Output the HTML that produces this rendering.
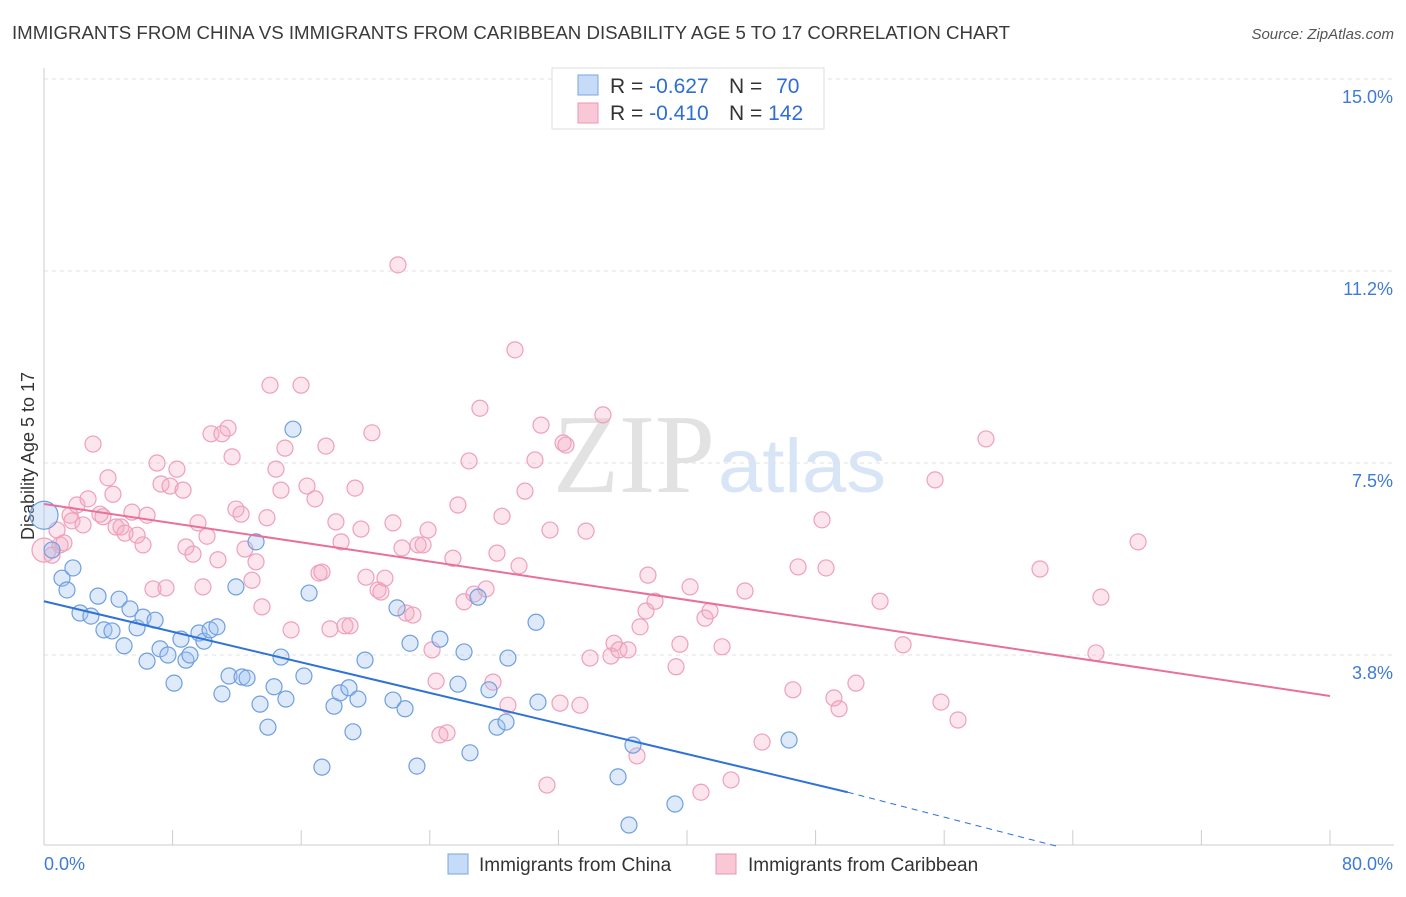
<!DOCTYPE html>
<html><head><meta charset="utf-8"><style>
body{margin:0;background:#fff;font-family:"Liberation Sans",sans-serif;}
svg text{font-family:"Liberation Sans",sans-serif;}
</style></head><body>
<svg id="c" width="1406" height="892" xmlns="http://www.w3.org/2000/svg">
<text x="12" y="39" font-size="18" fill="#3a3a3a" textLength="998" lengthAdjust="spacingAndGlyphs">IMMIGRANTS FROM CHINA VS IMMIGRANTS FROM CARIBBEAN DISABILITY AGE 5 TO 17 CORRELATION CHART</text>
<text x="1394" y="39" font-size="15" fill="#555" text-anchor="end" font-style="italic">Source: ZipAtlas.com</text>
<text x="553" y="492" font-size="112" fill="#e2e2e2" style="font-family:'Liberation Serif',serif" textLength="162" lengthAdjust="spacingAndGlyphs">ZIP</text>
<text x="718" y="492" font-size="76" fill="#d8e5f6" textLength="168" lengthAdjust="spacingAndGlyphs">atlas</text>
<text transform="translate(34,456) rotate(-90)" font-size="18" fill="#333" text-anchor="middle">Disability Age 5 to 17</text>
<g id="grid"></g><g id="axes"></g><g id="pts"></g><g id="lines"></g>
<g>
<rect x="552" y="68" width="272" height="61" fill="#fff" stroke="#ddd"/>
<rect x="578" y="75" width="20" height="20" fill="#c6dbf7" stroke="#7aa6e0"/>
<rect x="578" y="103" width="20" height="20" fill="#f9c8d7" stroke="#ec95b0"/>
<text x="610" y="93" font-size="21" fill="#333">R = <tspan fill="#2f6fd1">-0.627</tspan></text>
<text x="729" y="93" font-size="21" fill="#333">N = <tspan fill="#2f6fd1" dx="8">70</tspan></text>
<text x="610" y="120" font-size="21" fill="#333">R = <tspan fill="#2f6fd1">-0.410</tspan></text>
<text x="729" y="120" font-size="21" fill="#333">N = <tspan fill="#2f6fd1">142</tspan></text>
</g>
<g>
<rect x="448" y="854" width="20" height="20" fill="#c6dbf7" stroke="#7aa6e0"/>
<text x="479" y="871" font-size="19" fill="#333">Immigrants from China</text>
<rect x="716" y="854" width="20" height="20" fill="#f9c8d7" stroke="#ec95b0"/>
<text x="748" y="871" font-size="19" fill="#333">Immigrants from Caribbean</text>
</g>
</svg>
<script>
const yTicks=[3.75,7.5,11.25,15];
const yTickLabels=["3.8%","7.5%","11.2%","15.0%"];
const xTickLabels=["0.0%","80.0%"];
const bluePx=[[44,515],[52,550],[62,578],[73,568],[67,590],[80,613],[91,616],[98,596],[104,630],[112,631],[119,599],[124,646],[130,609],[137,628],[143,617],[147,661],[155,620],[160,649],[168,655],[174,683],[181,639],[186,660],[190,655],[199,633],[204,641],[210,630],[217,627],[222,694],[229,676],[236,587],[242,677],[247,678],[256,542],[260,704],[268,727],[274,687],[281,657],[286,699],[293,429],[304,676],[309,593],[322,767],[334,706],[340,693],[349,688],[353,732],[358,699],[365,660],[393,700],[397,608],[405,709],[410,643],[417,766],[440,639],[458,684],[464,652],[470,753],[478,597],[489,690],[497,727],[506,722],[508,658],[536,622],[538,702],[633,745],[618,777],[629,825],[675,804],[789,740]];
const pinkPx=[[44,550],[52,555],[57,530],[60,545],[64,543],[70,515],[72,521],[77,505],[83,525],[88,499],[93,444],[100,514],[103,517],[108,478],[113,494],[116,527],[121,527],[125,533],[132,512],[137,535],[143,545],[147,515],[153,589],[157,463],[161,484],[166,588],[170,486],[177,469],[183,490],[186,547],[193,554],[198,523],[203,587],[207,536],[211,434],[218,560],[222,434],[228,428],[232,457],[236,509],[241,514],[245,549],[252,580],[256,562],[262,607],[267,518],[270,385],[276,469],[281,490],[285,448],[291,630],[301,385],[307,486],[315,499],[319,573],[322,572],[326,446],[330,629],[336,522],[341,542],[345,626],[350,626],[355,488],[361,529],[366,577],[372,433],[378,590],[381,592],[385,578],[393,523],[398,265],[402,548],[406,613],[413,615],[418,545],[423,545],[428,530],[432,650],[436,681],[440,735],[447,733],[453,558],[458,505],[464,602],[469,461],[474,594],[480,408],[486,589],[493,682],[497,553],[502,516],[508,705],[515,350],[519,566],[525,491],[535,460],[541,425],[547,785],[550,530],[560,703],[563,443],[566,445],[580,705],[586,531],[590,658],[603,415],[611,656],[614,643],[619,650],[628,650],[637,756],[640,627],[646,611],[648,575],[655,601],[676,667],[680,644],[690,587],[701,792],[705,618],[710,611],[722,647],[731,780],[745,591],[762,742],[793,690],[798,567],[822,520],[826,568],[834,698],[839,709],[856,683],[880,601],[903,645],[935,480],[941,702],[958,720],[986,439],[1040,569],[1096,653],[1101,597],[1138,542]];
const chinaX=bluePx.map(p=>+((p[0]-44)/1286*80).toFixed(2));
const chinaY=bluePx.map(p=>+((847-p[1])/51.2).toFixed(2));
const caribX=pinkPx.map(p=>+((p[0]-44)/1286*80).toFixed(2));
const caribY=pinkPx.map(p=>+((847-p[1])/51.2).toFixed(2));
const chinaTrend=[[0,4.8],[50,1.07],[63.2,0]];
const caribTrend=[[0,6.7],[80,2.95]];

const NS="http://www.w3.org/2000/svg";
const sx=v=>44+v/80*1286, sy=v=>847-v*51.2;
function mk(t,a,parent){const e=document.createElementNS(NS,t);for(const k in a)e.setAttribute(k,a[k]);document.getElementById(parent).appendChild(e);return e;}
yTicks.forEach((t,i)=>{
 const g=mk('line',{x1:44,x2:1394,y1:sy(t),y2:sy(t),stroke:'#e2e2e2','stroke-dasharray':'4 4'},'grid');
 
 
 const tx=mk('text',{x:1393,y:sy(t)+24,'font-size':18,fill:'#3d7bd6','text-anchor':'end'},'axes');
 tx.textContent=yTickLabels[i];
 
 
});
const ax=mk('line',{x1:44,x2:1394,y1:845,y2:845,stroke:'#ccc'},'axes');


const ay=mk('line',{x1:44,x2:44,y1:68,y2:845,stroke:'#ccc'},'axes');


for(let i=1;i<=10;i++){const v=i*8;const t=mk('line',{x1:sx(v),x2:sx(v),y1:830,y2:845,stroke:'#ccc'},'axes');
 
 }
[[0,44,'start'],[80,1393,'end']].forEach((d,i)=>{const t=mk('text',{x:d[1],y:870,'font-size':18,fill:'#3d7bd6','text-anchor':d[2]},'axes');t.textContent=xTickLabels[i];
 
 });
caribX.forEach((x,i)=>{const c=mk('circle',{cx:sx(x),cy:sy(caribY[i]),r:i==0?12:8,fill:'rgba(246,170,195,0.3)',stroke:'#eea0ba','stroke-width':1.2},'pts');
 
 });
chinaX.forEach((x,i)=>{const c=mk('circle',{cx:sx(x),cy:sy(chinaY[i]),r:i==0?14:8,fill:'rgba(160,195,240,0.35)',stroke:'#6e9fe0','stroke-width':1.2},'pts');
 
 });
let l=mk('line',{x1:sx(chinaTrend[0][0]),y1:sy(chinaTrend[0][1]),x2:sx(chinaTrend[1][0]),y2:sy(chinaTrend[1][1]),stroke:'#2f72d8','stroke-width':2},'lines');


l=mk('line',{x1:sx(chinaTrend[1][0]),y1:sy(chinaTrend[1][1]),x2:sx(chinaTrend[2][0]),y2:sy(chinaTrend[2][1]),stroke:'#2f72d8','stroke-width':1,'stroke-dasharray':'6 5'},'lines');


l=mk('line',{x1:sx(caribTrend[0][0]),y1:sy(caribTrend[0][1]),x2:sx(caribTrend[1][0]),y2:sy(caribTrend[1][1]),stroke:'#e8709a','stroke-width':2},'lines');


</script>
</body></html>
